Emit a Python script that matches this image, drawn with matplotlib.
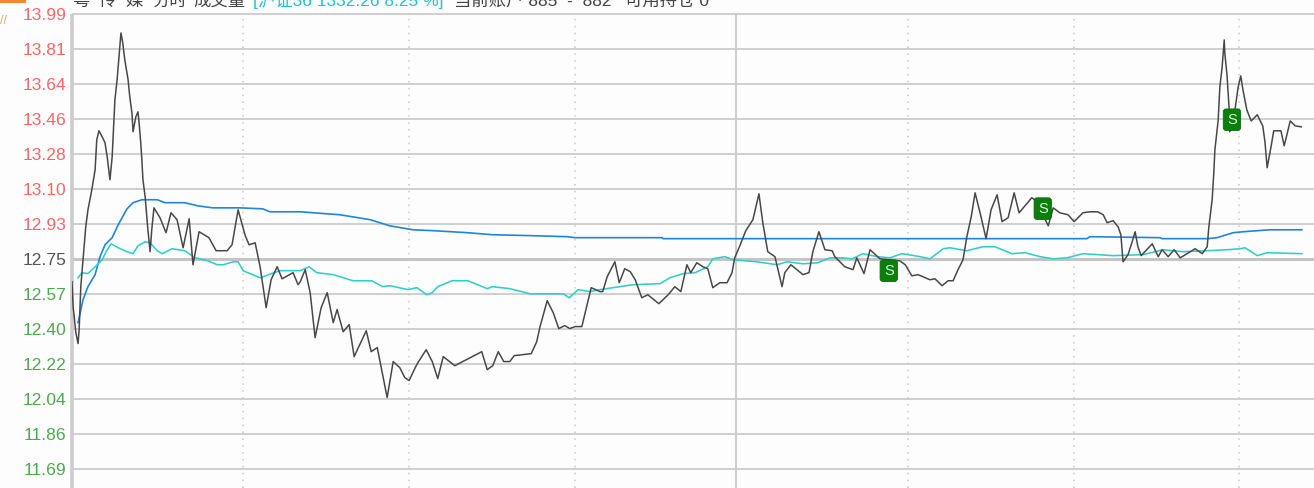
import numpy as np
import matplotlib
matplotlib.use('Agg')
import matplotlib.pyplot as plt
from matplotlib.patches import Rectangle

plt.rcParams['font.family'] = ['Liberation Sans', 'Noto Sans CJK SC', 'DejaVu Sans']

# price levels on the axis, 12.75 is the previous close
levels = [13.99, 13.813, 13.636, 13.459, 13.281, 13.104, 12.927, 12.75, 12.573, 12.396, 12.219, 12.041, 11.864, 11.687]
prev_close = 12.75

# minutes since the open, price
black_t = [0, 0.2, 0.7, 1.1, 1.3, 1.6, 2, 2.5, 2.9, 3.6, 4.2, 4.5, 4.9, 5.5, 6, 6.4, 6.9, 7.3, 7.6, 7.8, 8.2, 8.5, 8.9, 9.2, 9.6,
           10.2, 10.5, 10.9, 11.1, 11.6, 12, 12.2, 12.5, 12.7, 12.9, 13.3, 13.6, 13.8, 14.2, 14.5, 14.9, 16, 17.1, 18, 19.1,
           20.2, 21.3, 22, 23.1, 24.9, 26.2, 28.2, 29.1, 30.2, 31.5, 32.2, 33.3, 34.2, 35.3, 36.2, 37.3, 38.2, 40.2, 41.1,
           41.5, 42.4, 43.3, 44.2, 45.3, 46.4, 47.5, 48.2, 49.3, 50.4, 51.3, 53.5, 54.4, 55.5, 57.3, 58.4, 59.6, 60.5, 61.3,
           62.4, 62.9, 64.4, 65.5, 66.5, 67.5, 69.6, 74.5, 75.5, 76.5, 77.5, 78.5, 79.6, 80.4, 83.5, 84.5, 85.1, 86.4, 87.5,
           88.5, 89.6, 90.5, 91.5, 92.7, 94.4, 96,
           96.5, 97.3, 98.7, 99.5, 100.5, 101.5, 102.4, 103.6, 104.7, 106.7, 108.4, 109.6, 110.7, 111.8, 112.5, 113.6, 114.7,
           115.6, 116.5, 117.8, 119.1, 120, 120.5, 121.5, 122.5, 123.8, 124.9, 125.6, 126.5, 127.8, 129.1, 129.6, 130.7, 132.9,
           134, 134.7, 135.8, 136.9, 138.2, 138.7, 140.5, 142, 142.7, 144, 145.1, 146.9, 150.5, 151.5, 152.7, 153.8, 156, 156.9,
           158.2, 159.3,
           160.2, 161.1, 162, 162.7, 163.5, 164.2, 165.1, 166.2, 167.1, 168.2, 169.1, 170.2, 171.3, 172.2, 174.5, 175.3, 177.5,
           178.4, 179.6, 181.1, 182.2, 183.8, 185.1, 186.5, 187.5, 188.2, 189.3, 190.2, 190.7, 191.1, 192, 192.7, 193.3, 193.8,
           194.4, 196.4, 197.5, 198.2, 199.3, 200.4, 201.5, 204.2, 205.5, 206.4, 206.7, 207.3, 207.6,
           207.8, 208.4, 208.7, 209.1, 209.5, 209.6, 210, 210.4, 210.5, 211.5, 212, 212.5, 212.9, 213.6, 214.4, 215.5, 216.5,
           216.9, 217.3, 218, 218.5, 219.8, 220.4, 221.5, 222.4, 223.5]
black_p = [12.635, 12.509, 12.377, 12.322, 12.393, 12.610, 12.746, 12.913, 12.999, 13.100, 13.201, 13.353, 13.399, 13.368, 13.338,
           13.267, 13.151, 13.267, 13.439, 13.555, 13.657, 13.758, 13.894, 13.849, 13.758,
           13.657, 13.571, 13.490, 13.394, 13.469, 13.495, 13.439, 13.338, 13.252, 13.151, 13.065, 12.964, 12.898, 12.787, 12.898,
           13.009, 12.959, 12.883, 12.984, 12.949,
           12.807, 12.954, 12.721, 12.888, 12.858, 12.792, 12.792, 12.822, 12.999, 12.868, 12.822, 12.832, 12.711, 12.504, 12.645,
           12.711, 12.650, 12.681, 12.620,
           12.635, 12.696, 12.580, 12.352, 12.504, 12.580, 12.428, 12.494, 12.382, 12.418, 12.256, 12.387, 12.281, 12.302, 12.049,
           12.231, 12.200, 12.150, 12.135,
           12.200, 12.226, 12.291, 12.231, 12.145, 12.256, 12.210, 12.281, 12.190, 12.210, 12.281, 12.231, 12.231, 12.261, 12.271,
           12.332, 12.408, 12.539, 12.478,
           12.398, 12.413, 12.398, 12.408, 12.408, 12.605, 12.585,
           12.585, 12.660, 12.736, 12.630, 12.701, 12.686, 12.645, 12.554, 12.569, 12.524, 12.569, 12.610, 12.585, 12.721, 12.681,
           12.731, 12.711,
           12.701, 12.605, 12.630, 12.630, 12.681, 12.756, 12.822, 12.893, 12.949, 13.080, 12.934, 12.787, 12.762, 12.610, 12.681,
           12.721, 12.671,
           12.681, 12.787, 12.888, 12.797, 12.792, 12.762, 12.711, 12.696, 12.756, 12.676, 12.797, 12.751, 12.741, 12.721, 12.665,
           12.671, 12.645, 12.650,
           12.615, 12.640,
           12.640, 12.696, 12.746, 12.863, 12.964, 13.085, 12.984, 12.853, 12.999, 13.075, 12.939, 12.959, 13.085, 12.984, 13.060,
           13.045, 12.918,
           13.009, 12.984, 12.974, 12.939, 12.984, 12.989, 12.989, 12.974, 12.934, 12.944, 12.913, 12.873, 12.736, 12.772, 12.832,
           12.888, 12.812,
           12.767, 12.827, 12.762, 12.797, 12.762, 12.797, 12.756, 12.802, 12.777, 12.812, 12.913, 13.050, 13.186,
           13.303, 13.454, 13.621, 13.717, 13.859, 13.793, 13.682, 13.505, 13.394, 13.515, 13.616, 13.677, 13.606, 13.505, 13.449,
           13.480, 13.424,
           13.343, 13.212, 13.318, 13.399, 13.399, 13.323, 13.449, 13.424, 13.419]

blue_t = [1.1, 1.5, 2, 2.9, 4.2, 5.1, 6, 7.3, 8.4, 10, 11.1, 12.7, 15.5, 16.9, 20.5, 22.9, 25.6, 30.5, 34.7, 36, 41.5, 48.7, 54.2,
          57.8, 62, 66, 72, 76.4, 83.8, 90, 91.5, 107.3, 107.5, 184.5, 185.1, 197.8, 198.2, 206.5, 208.2, 211.1, 212.9, 217.8, 223.6]
blue_p = [12.428, 12.478, 12.544, 12.610, 12.671, 12.762, 12.822, 12.858, 12.923, 13.004, 13.035, 13.050, 13.050, 13.035, 13.035,
          13.019, 13.009, 13.009, 13.004, 12.989, 12.989, 12.974, 12.949, 12.918, 12.898, 12.893, 12.883, 12.873, 12.868, 12.863,
          12.858, 12.858, 12.853, 12.853, 12.863, 12.858, 12.853, 12.853, 12.858, 12.883, 12.888, 12.898, 12.898]

teal_t = [1.1, 1.8, 2.9, 4.2, 5.5, 6.2, 7.1, 8.4, 10, 11.1, 12, 13.3, 14.2, 15.5, 16.4, 18.2, 20.5, 22.4, 24.7, 26.4, 27.5, 29.3, 30.2,
          31.1, 34.2, 37.8, 41.5, 43.1, 44.5, 47.5, 51.1, 54.5, 56.5, 57.8, 61.1, 62.7, 64.5, 65.5, 66.5, 69.1, 72, 75.5, 76.4, 79.6,
          83.3, 89.3, 90.4, 92, 94.2, 96, 102, 106.9, 108.7, 111.1, 113.3, 115.6, 116.5, 118.7, 120.2, 124.5, 128.2, 130, 132.9, 135.6,
          137.8, 140.2, 141.8, 143.8, 146.4, 148.7, 150.9, 154.2, 156, 158.4, 159.6, 162.7, 165.6, 167.8, 170.9, 173.3, 176, 178.4,
          180.9, 183.8, 189.3, 194.7, 198.4, 202, 206.4, 210, 212.4, 213.3, 215.5, 217.3, 223.6]
teal_p = [12.655, 12.681, 12.676, 12.711, 12.746, 12.787, 12.827, 12.807, 12.787, 12.777, 12.817, 12.837, 12.832, 12.792, 12.777,
          12.802, 12.792, 12.756, 12.741, 12.721, 12.721, 12.736, 12.736,
          12.691, 12.655, 12.691, 12.691, 12.711, 12.681, 12.671, 12.640, 12.640, 12.610, 12.615, 12.595, 12.605, 12.569, 12.580,
          12.610, 12.640, 12.640, 12.600, 12.610, 12.600,
          12.574, 12.574, 12.554, 12.595, 12.585, 12.595, 12.620, 12.625, 12.655, 12.676, 12.681, 12.711, 12.751, 12.762, 12.746,
          12.736, 12.721, 12.736, 12.726, 12.731,
          12.756, 12.756, 12.751, 12.777, 12.762, 12.756, 12.777, 12.762, 12.751, 12.802, 12.807, 12.792, 12.812, 12.812, 12.777,
          12.782, 12.762, 12.751,
          12.756, 12.777, 12.767, 12.772, 12.797, 12.787, 12.792, 12.797, 12.802, 12.807, 12.767, 12.782, 12.777]

# sell signals
sell_t = [148.5, 176.5, 210.9]
sell_p = [12.691, 13.005, 13.455]

# half hour marks, the solid one is the midday break
half_hours = [31.1, 61.3, 91.5, 152, 182.2, 212.2]
midday = 120.7

W, H = 1314, 488
fig = plt.figure(figsize=(W/100, H/100), dpi=100, facecolor='#fdfdfd')
ax = fig.add_axes([72/W, 0, 1-72/W, 1], facecolor='#fdfdfd')
ax.set_xlim(0, (W-72)/5.5)
ax.set_ylim(11.591, 14.061)

for lev in levels:
    lw = 2.2 if lev == prev_close else 1.3
    col = '#c4c4c4' if lev == prev_close else '#cccccc'
    ax.axhline(lev, color=col, lw=lw, zorder=1)
ax.vlines(half_hours, 11.591, levels[0], color='#c8c8c8', lw=1.1, linestyles=(0, (1, 3.5)), zorder=1)
ax.vlines(midday, 11.591, levels[0], color='#c8c8c8', lw=1.3, zorder=1)
ax.vlines(0, 11.591, levels[0], color='#cccccc', lw=2.6, zorder=1, clip_on=False)

ax.plot(blue_t, blue_p, color='#1f86dc', lw=1.2, zorder=3)
ax.plot(teal_t, teal_p, color='#2fcfc8', lw=1.15, zorder=3)
ax.plot(black_t, black_p, color='#484848', lw=1.1, zorder=4)

for t, p in zip(sell_t, sell_p):
    ax.text(t, p, 'S', color='#d8f0d8', fontsize=10.5, ha='center', va='center', zorder=5,
            bbox=dict(boxstyle='round,pad=0.26,rounding_size=0.2', fc='#0b7f0b', ec='#0a6a0a', lw=0.6))

for s in ax.spines.values():
    s.set_visible(False)
ax.set_xticks([])
ax.set_yticks(levels)
ax.set_yticklabels(['%.2f' % v for v in levels], fontsize=12.6)
ax.tick_params(axis='y', length=0, pad=4.2)
for lab, lev in zip(ax.get_yticklabels(), levels):
    if lev > prev_close:
        lab.set_color('#f96666')
    elif lev < prev_close:
        lab.set_color('#4fa84f')
    else:
        lab.set_color('#555555')

# header row, cut off by the top of the screenshot
def head(x, s, color='#444444'):
    fig.text(x/W, 1-6/H, s, color=color, fontsize=12.5, ha='left', va='baseline')

head(73, '粤')
head(99, '传')
head(125, '媒')
head(152, '分时')
head(193, '成交量')
head(253, '[沪证36 1332.26 8.25 %]', color='#22c4c4')
head(454, '当前账户 885  -  882')
head(625, '可用持仓 0')

# orange corner bits of the toolbar
fig.add_artist(Rectangle((0, 1-3/H), 26/W, 3/H, transform=fig.transFigure, fc='#f08a30', ec='none'))
fig.text(0, 1-24/H, '//', color='#f0a060', fontsize=9, ha='left', va='baseline')

fig.savefig('out.png', dpi=100, facecolor=fig.get_facecolor())
